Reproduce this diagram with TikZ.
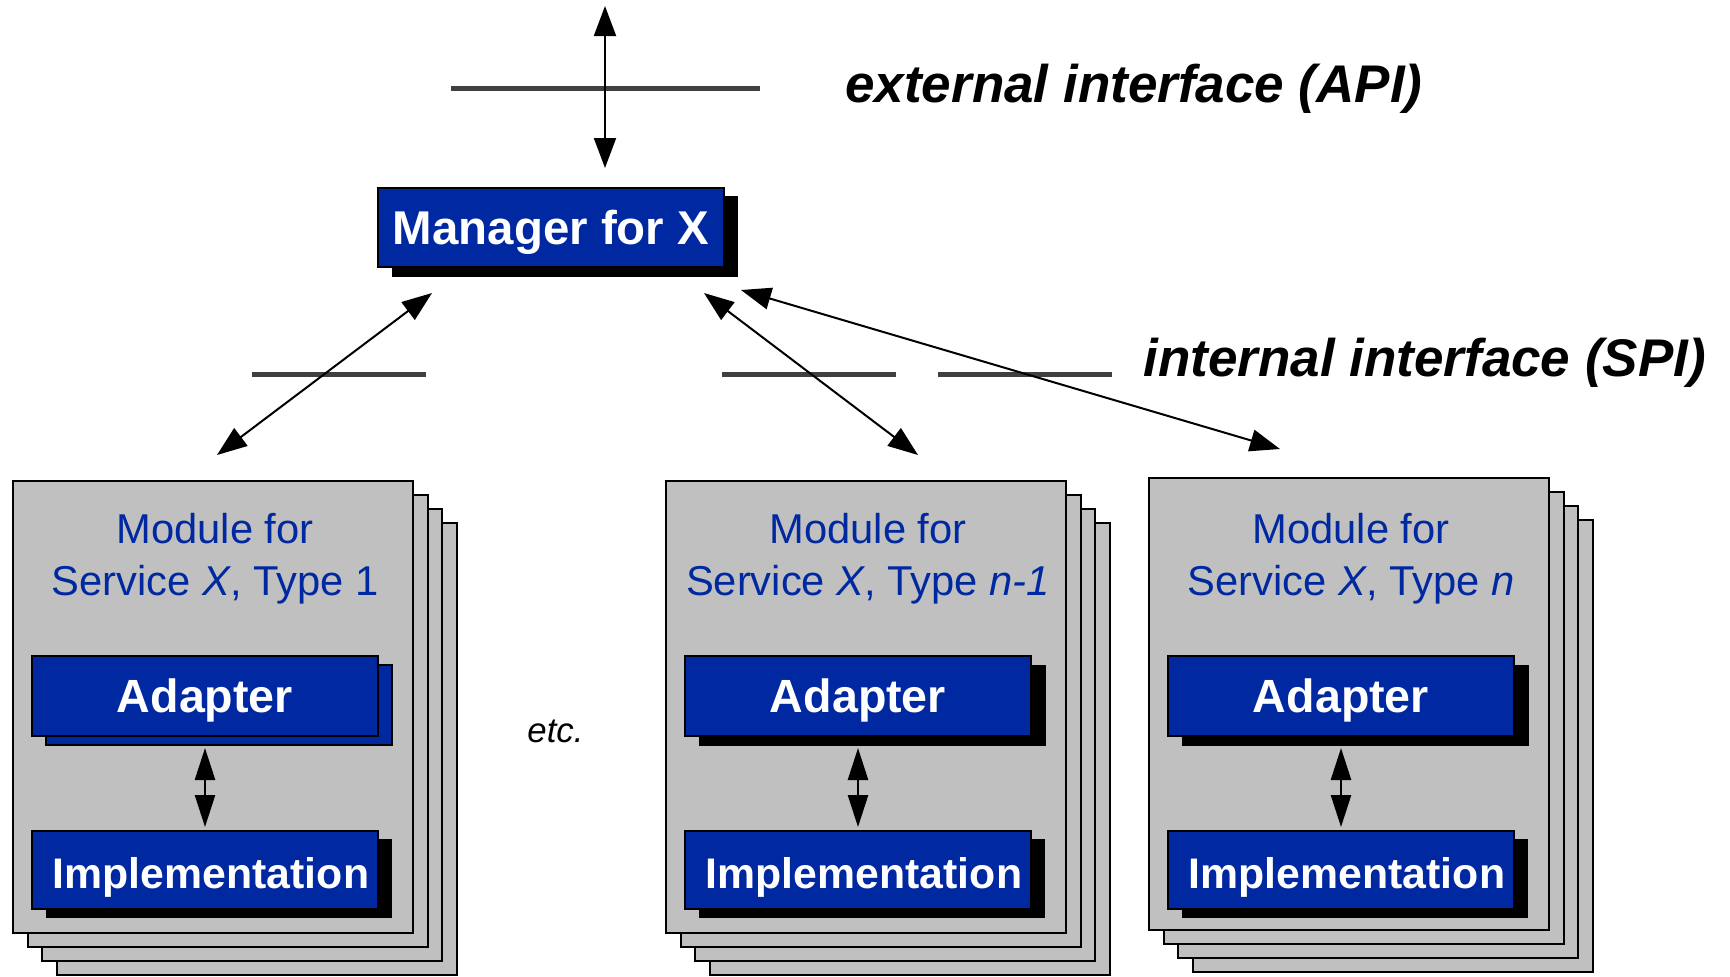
\documentclass[tikz,border=0pt]{standalone}
\usepackage{fontspec}
\setmainfont{Liberation Sans}
\usetikzlibrary{arrows.meta}
\definecolor{boxblue}{RGB}{0,40,160}
\definecolor{pagegray}{RGB}{192,192,192}
\definecolor{ifgray}{RGB}{64,64,64}
\tikzset{
  page/.style={fill=pagegray, draw=black, line width=1pt},
  bluebox/.style={fill=boxblue, draw=black, line width=1pt, text=white, inner sep=0pt, text depth=0pt},
  mgrbox/.style={bluebox, minimum width=173pt, minimum height=39.5pt, text height=17pt, font=\bfseries\fontsize{23.7}{28}\selectfont},
  adbox/.style={bluebox, minimum width=173pt, minimum height=40pt, text height=16.7pt, font=\bfseries\fontsize{23.3}{28}\selectfont},
  imbox/.style={bluebox, minimum width=173pt, minimum height=39pt, text height=18pt, font=\bfseries\fontsize{21.4}{26}\selectfont},
  modtext/.style={text=boxblue, inner sep=0pt, font=\fontsize{20.85}{25}\selectfont},
  lbl/.style={inner sep=0pt, font=\bfseries\itshape\fontsize{26.5}{31}\selectfont},
  etctext/.style={inner sep=0pt, font=\itshape\fontsize{17.4}{20}\selectfont},
  ifline/.style={draw=ifgray, line width=2.5pt},
  bigarrow/.style={line width=1pt, {Triangle[length=15pt,width=11pt]}-{Triangle[length=15pt,width=11pt]}},
  modarrow/.style={line width=1.3pt, {Triangle[length=16pt,width=10pt]}-{Triangle[length=16pt,width=10pt]}, shorten <=5.5pt, shorten >=1.5pt},
  blueshadow/.style={fill=boxblue, draw=black, line width=1pt},
  blackshadow/.style={fill=black}
}
\newcommand\mkmodule[6]{%
  \begin{scope}[shift={(#1,#2)}]
    \foreach \k in {3,2,1} {\draw[page] (14.5*\k,14*\k+#6) rectangle +(400,452);}
    \draw[page] (0,#6) rectangle (400,452+#6);
    \node[modtext, anchor=base] (mt#3) at (202,62) {Module for};
    \node[modtext, anchor=base] (ms#3) at (202,114) {Service \textit{X}, Type #4};
    \draw[#5] (33,184) rectangle (379,264);
    \node[adbox] (ad#3) at (192,215) {Adapter};
    \fill[black] (33,358) rectangle (379,437);
    \node[imbox] (im#3) at (192,389) {\hspace*{6pt}Implementation};
    \draw[modarrow] (ad#3.south) -- (im#3.north);
  \end{scope}}
\begin{document}
\begin{tikzpicture}[x=0.5pt,y=-0.5pt]
  \useasboundingbox (0,0) rectangle (1730,976);
  % interface lines
  \draw[ifline] (451,88) -- (760,88);
  \draw[ifline] (252,374) -- (426,374);
  \draw[ifline] (722,374) -- (896,374);
  \draw[ifline] (938,374) -- (1112,374);
  % labels
  \node[lbl, anchor=base west] (api) at (845,102) {external interface (API)};
  \node[lbl, anchor=base west] (spi) at (1143,376) {internal interface (SPI)};
  % manager
  \fill[black] (392,196) rectangle (738,277);
  \node[mgrbox] (mgr) at (551,227.5) {Manager for X};
  % modules
  \mkmodule{13}{481}{1}{1}{blueshadow}{0}
  \mkmodule{666}{481}{2}{\textit{n-1}}{blackshadow}{0}
  \mkmodule{1149}{481}{3}{\textit{n}}{blackshadow}{-3}
  \node[etctext, anchor=base west] (etc) at (527,742) {etc.};
  % connector end points
  \coordinate (apiT) at (605,6);
  \coordinate (apiB) at (605,168);
  \coordinate (m1) at (432,293);
  \coordinate (c1) at (217,455);
  \coordinate (m2) at (704,293);
  \coordinate (c2) at (918,455);
  \coordinate (m3) at (741,290);
  \coordinate (c3) at (1280,449);
  \draw[bigarrow] (apiT) -- (apiB);
  \draw[bigarrow] (m1) -- (c1);
  \draw[bigarrow] (m2) -- (c2);
  \draw[bigarrow] (m3) -- (c3);
\end{tikzpicture}
\end{document}
